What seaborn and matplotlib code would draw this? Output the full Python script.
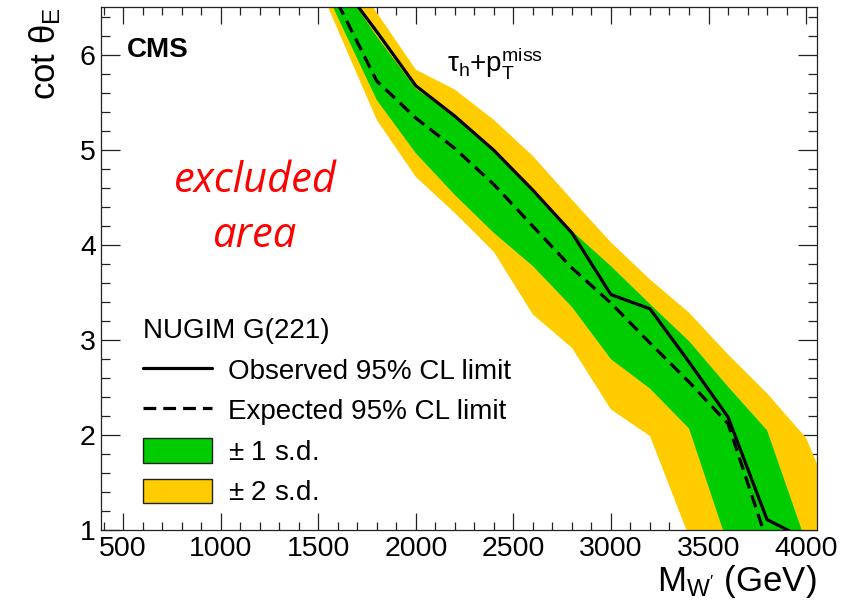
import matplotlib
matplotlib.use("Agg")
import matplotlib.pyplot as plt
from matplotlib.ticker import MultipleLocator
from matplotlib.lines import Line2D
from matplotlib.patches import Patch
import numpy as np
import pandas as pd
import seaborn as sns

# W' mass points (GeV) and the 95% CL limits on cot(theta_E)
mass_band = [1500, 1600, 1800, 2000, 2200, 2400, 2600, 2800, 3000, 3200, 3400, 3600, 3800, 4000, 4200]
two_sd_up = [7.35, 7.05, 6.45, 5.85, 5.64, 5.32, 4.94, 4.48, 4.03, 3.64, 3.29, 2.85, 2.44, 1.97, 1.00]
one_sd_up = [7.10, 6.80, 6.20, 5.65, 5.36, 5.00, 4.57, 4.15, 3.78, 3.38, 2.99, 2.51, 2.05, 0.87, 0.50]
one_sd_lo = [6.85, 6.40, 5.53, 4.97, 4.53, 4.13, 3.78, 3.35, 2.80, 2.49, 2.07, 0.84, 0.50, 0.40, 0.30]
two_sd_lo = [6.75, 6.27, 5.32, 4.72, 4.34, 3.93, 3.27, 2.92, 2.27, 1.99, 0.93, 0.50, 0.40, 0.30, 0.20]

mass_obs = [1600, 1800, 2000, 2200, 2400, 2600, 2800, 3000, 3200, 3400, 3600, 3800, 4000]
observed = [6.80, 6.25, 5.68, 5.36, 5.00, 4.58, 4.13, 3.48, 3.33, 2.77, 2.19, 1.11, 0.90]

mass_exp = [1600, 1800, 2000, 2200, 2400, 2600, 2800, 3000, 3200, 3400, 3600, 3800]
expected = [6.55, 5.73, 5.34, 5.02, 4.64, 4.20, 3.76, 3.39, 2.97, 2.56, 2.12, 0.88]

x_ticks = [500, 1000, 1500, 2000, 2500, 3000, 3500, 4000]
y_ticks = [1, 2, 3, 4, 5, 6]

GREEN = "#00CC00"
YELLOW = "#FFCC00"

sns.set_style("ticks")
plt.rcParams["font.family"] = ["Liberation Sans", "DejaVu Sans"]
plt.rcParams["mathtext.fontset"] = "custom"
plt.rcParams["mathtext.rm"] = "Liberation Sans"
plt.rcParams["mathtext.it"] = "Liberation Sans:italic"
plt.rcParams["mathtext.bf"] = "Liberation Sans:bold"
for key in ["text.color", "axes.labelcolor", "xtick.color", "ytick.color"]:
    plt.rcParams[key] = "black"

bands = pd.DataFrame({"mass": mass_band, "up2": two_sd_up, "up1": one_sd_up,
                      "lo1": one_sd_lo, "lo2": two_sd_lo})
obs_df = pd.DataFrame({"mass": mass_obs, "limit": observed})
exp_df = pd.DataFrame({"mass": mass_exp, "limit": expected})

fig = plt.figure(figsize=(8.44, 6.06), dpi=100)
W, H = 844, 606
x0, x1, y0, y1 = 100.7, 817.0, 7.0, 530.0
ax = fig.add_axes([x0 / W, 1 - y1 / H, (x1 - x0) / W, (y1 - y0) / H])

ax.fill_between(bands["mass"], bands["lo2"], bands["up2"], color=YELLOW, lw=0, zorder=1)
ax.fill_between(bands["mass"], bands["lo1"], bands["up1"], color=GREEN, lw=0, zorder=2)

sns.lineplot(data=exp_df, x="mass", y="limit", ax=ax, color="black", lw=2.3,
             linestyle=(0, (4, 2.2)), sort=False, zorder=3)
sns.lineplot(data=obs_df, x="mass", y="limit", ax=ax, color="black", lw=2.3,
             sort=False, zorder=4)

ax.set_xlim(385, 4056)
ax.set_ylim(1, 6.51)
ax.set_xticks(x_ticks)
ax.set_yticks(y_ticks)
ax.xaxis.set_minor_locator(MultipleLocator(100))
ax.yaxis.set_minor_locator(MultipleLocator(0.2))
ax.tick_params(which="both", direction="in", top=True, right=True,
               color="#222222", width=0.9, labelsize=20.5)
ax.tick_params(axis="x", which="major", length=12, pad=4)
ax.tick_params(axis="x", which="minor", length=6)
ax.tick_params(axis="y", which="major", length=13.5, pad=3.5)
ax.tick_params(axis="y", which="minor", length=6.8)
for sp in ax.spines.values():
    sp.set_color("#222222")
    sp.set_linewidth(0.9)

ax.set_xlabel(r"$\mathrm{M_{W'}}$ (GeV)", fontsize=25, loc="right")
ax.xaxis.set_label_coords(1.0, -0.064)
ax.set_ylabel(r"cot $\mathrm{\theta_{E}}$", fontsize=25, loc="top")
ax.yaxis.set_label_coords(-0.052, 1.0)

ax.text(0.036, 0.942, "CMS", transform=ax.transAxes, fontsize=20,
        fontweight="bold", ha="left", va="top")
ax.text(0.483, 0.876, r"$\mathrm{\tau_{h}}$+$\mathrm{p_{T}^{miss}}$",
        transform=ax.transAxes, fontsize=20, ha="left", va="baseline")
ax.text(0.216, 0.708, "excluded\narea", transform=ax.transAxes,
        fontsize=30, fontstyle="italic", family=["Open Sans", "DejaVu Sans"],
        color="#FF0000", ha="center", va="top", multialignment="center",
        linespacing=1.42)

handles = [
    Line2D([], [], color="black", lw=2.3),
    Line2D([], [], color="black", lw=2.3, linestyle=(0, (4, 2.2))),
    Patch(facecolor=GREEN, edgecolor="#222222", lw=1.0),
    Patch(facecolor=YELLOW, edgecolor="#222222", lw=1.0),
]
labels = ["Observed 95% CL limit", "Expected 95% CL limit",
          r"$\pm$ 1 s.d.", r"$\pm$ 2 s.d."]
ax.legend(handles, labels, title="NUGIM G(221)", loc="upper left",
          bbox_to_anchor=(0.059, 0.405), frameon=False, fontsize=20,
          title_fontsize=20, handlelength=2.5, handleheight=0.98,
          handletextpad=0.55, labelspacing=0.46, borderpad=0,
          borderaxespad=0, alignment="left")

fig.savefig("out.png", dpi=100, facecolor="white")
